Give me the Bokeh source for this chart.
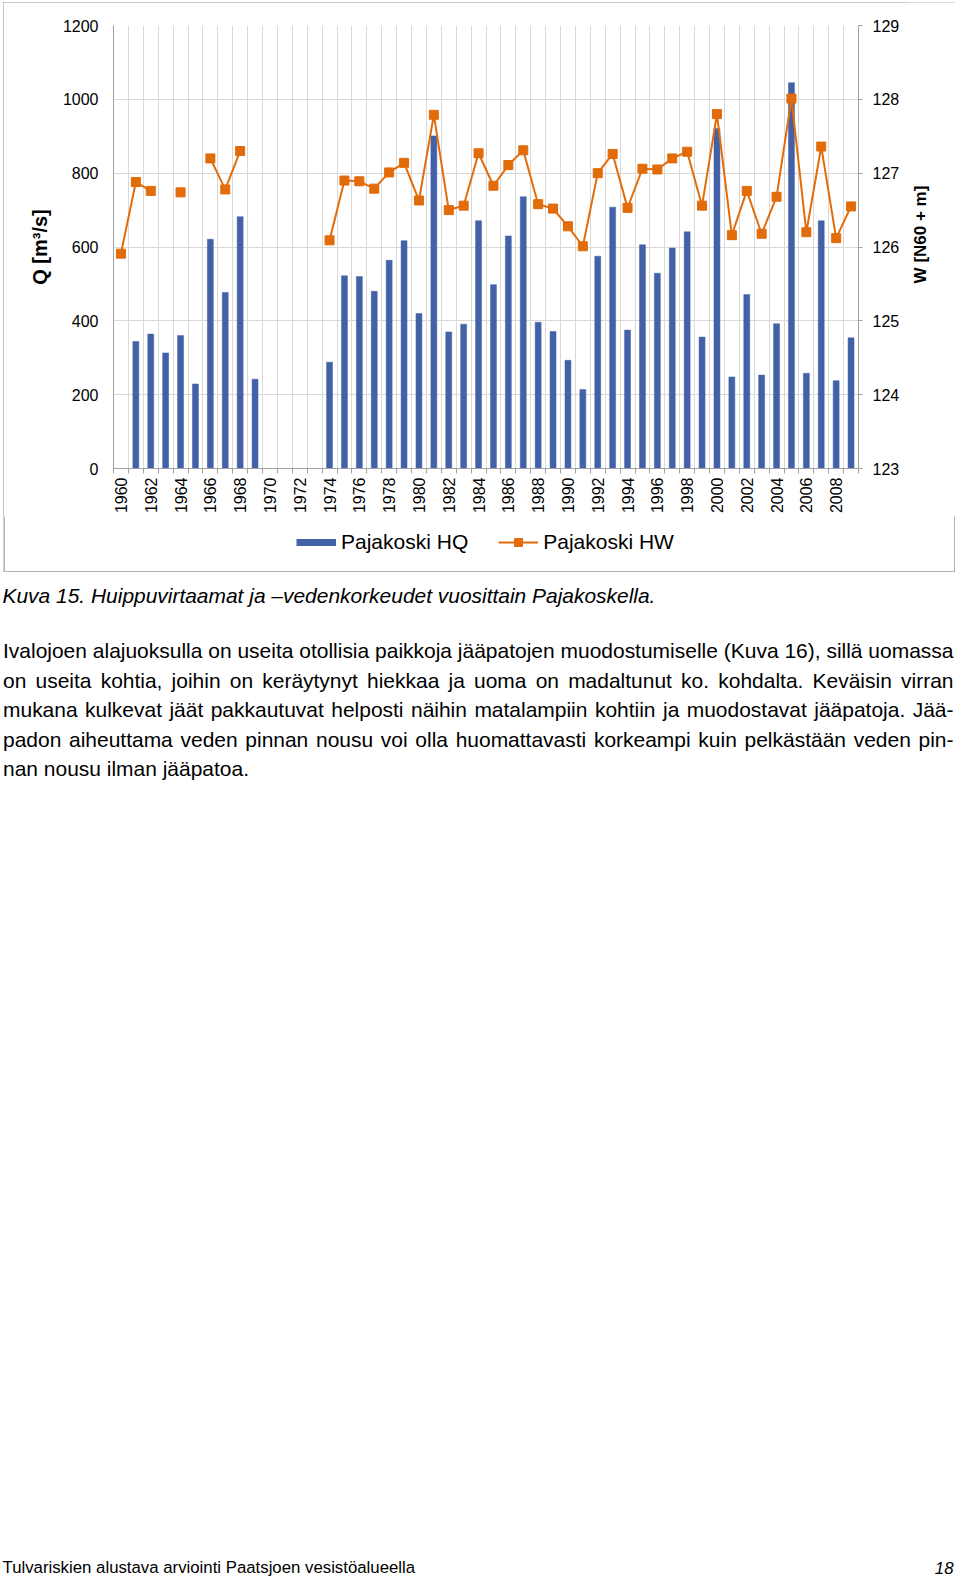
import glob
import math
import numpy as np
from bokeh.plotting import figure
from bokeh.layouts import column, row
from bokeh.models import (Range1d, LinearAxis, FixedTicker, Legend, LegendItem)
from bokeh.core.properties import value
from bokeh.embed import file_html
from bokeh.resources import INLINE

# ---------------- data ----------------
years = list(range(1960, 2010))
hq = [None, 344, 364, 313, 360, 229, 621, 477, 682, 242,
      None, None, None, None, 288, 522, 520, 480, 564, 617,
      420, 901, 370, 391, 671, 498, 630, 736, 396, 371,
      293, 214, 575, 708, 375, 606, 529, 597, 641, 356,
      921, 248, 471, 253, 392, 1045, 258, 671, 238, 354]
hw = [125.91, 126.88, 126.76, None, 126.74, None, 127.20, 126.78, 127.30, None,
      None, None, None, None, 126.09, 126.90, 126.89, 126.79, 127.01, 127.14,
      126.63, 127.79, 126.50, 126.56, 127.27, 126.83, 127.11, 127.31, 126.58, 126.52,
      126.28, 126.01, 127.00, 127.26, 126.53, 127.06, 127.05, 127.20, 127.29, 126.56,
      127.80, 126.16, 126.76, 126.18, 126.68, 128.01, 126.20, 127.36, 126.12, 126.55]
q_ticks = [0, 200, 400, 600, 800, 1000, 1200]
w_ticks = [123, 124, 125, 126, 127, 128, 129]
year_labels = list(range(1960, 2009, 2))

series_hq = "Pajakoski HQ"
series_hw = "Pajakoski HW"
y_label_left = "Q [m³/s]"
y_label_right = "W [N60 + m]"
caption = "Kuva 15. Huippuvirtaamat ja –vedenkorkeudet vuosittain Pajakoskella."
body_lines = [
    "Ivalojoen alajuoksulla on useita otollisia paikkoja jääpatojen muodostumiselle (Kuva 16), sillä uomassa",
    "on useita kohtia, joihin on keräytynyt hiekkaa ja uoma on madaltunut ko. kohdalta. Keväisin virran",
    "mukana kulkevat jäät pakkautuvat helposti näihin matalampiin kohtiin ja muodostavat jääpatoja. Jää-",
    "padon aiheuttama veden pinnan nousu voi olla huomattavasti korkeampi kuin pelkästään veden pin-",
    "nan nousu ilman jääpatoa.",
]
footer = "Tulvariskien alustava arviointi Paatsjoen vesistöalueella"
page_no = "18"

# ---------------- font measuring ----------------
def find_font(fname):
    for root in ["/usr/share/fonts", "/usr/local/share/fonts", "/usr/lib", "/opt", "/root/.fonts"]:
        r = glob.glob(root + "/**/" + fname, recursive=True)
        if r:
            return r[0]
    return None

try:
    from PIL import ImageFont
    HAVE_PIL = True
except Exception:
    HAVE_PIL = False

_fcache = {}
def measurer(fname):
    if not HAVE_PIL:
        return None
    if fname in _fcache:
        return _fcache[fname]
    path = find_font(fname)
    f = None
    if path:
        try:
            f = ImageFont.truetype(path, 100)
        except Exception:
            f = None
    _fcache[fname] = f
    return f

def text_w(f, text, size):
    return f.getlength(text) / 100.0 * size

def noalign(fig):
    try:
        fig.frame_align = False
    except Exception:
        pass

def blank(fig):
    fig.axis.visible = False
    fig.grid.visible = False
    fig.outline_line_color = None
    fig.background_fill_color = "white"
    fig.border_fill_color = "white"

# ---------------- layout constants ----------------
W, H = 960, 1577
BOX_L, BOX_R, BOX_T, BOX_B = 3, 955, 2, 572
FL, FR, FT, FB = 113, 858, 25, 470
CHART_B = 516          # page y where the chart figure ends, legend strip begins
SPLIT = 905            # page x where the chart figure ends, right-title strip begins
BLUE = "#4361A6"
ORANGE = "#E26B0A"
GRID = "#d9d9d9"
AXC = "#a0a0a0"
BOXC = "#b4b4b4"
FONT = "Liberation Sans"
TEXT_SHIFT = -8        # correction for the text figure's vertical placement

CW = BOX_R - BOX_L
CH = CHART_B - BOX_T
SH = BOX_B - CHART_B
PW = SPLIT - BOX_L
SW = BOX_R - SPLIT

# ---------------- chart figure ----------------
p = figure(width=PW, height=CH, x_range=Range1d(1959.5, 2009.5), y_range=Range1d(0, 1200),
           output_backend="svg", toolbar_location=None, title=None,
           min_border_left=FL - BOX_L, min_border_right=SPLIT - FR,
           min_border_top=FT - BOX_T, min_border_bottom=CHART_B - FB)
noalign(p)
p.outline_line_color = None
p.background_fill_color = "white"
p.border_fill_color = "white"

# left axis
ax_l = p.left[0]
ax_l.ticker = FixedTicker(ticks=q_ticks)
ax_l.major_tick_out = 0
ax_l.major_tick_in = 0
ax_l.minor_tick_out = 0
ax_l.minor_tick_in = 0
ax_l.major_label_standoff = 15
ax_l.major_label_text_font = FONT
ax_l.major_label_text_font_size = "16px"
ax_l.major_label_text_color = "black"
ax_l.axis_line_color = AXC
ax_l.axis_label = y_label_left
ax_l.axis_label_text_font = FONT
ax_l.axis_label_text_font_size = "20px"
ax_l.axis_label_text_font_style = "bold"
ax_l.axis_label_text_color = "black"
ax_l.axis_label_standoff = 9

# bottom axis
ax_b = p.below[0]
boundaries = [y - 0.5 for y in range(1960, 2011)]
ax_b.ticker = FixedTicker(ticks=year_labels, minor_ticks=boundaries)
ax_b.major_tick_line_color = None
ax_b.major_tick_out = 0
ax_b.major_tick_in = 0
ax_b.minor_tick_out = 5
ax_b.minor_tick_in = 0
ax_b.minor_tick_line_color = AXC
ax_b.axis_line_color = AXC
ax_b.major_label_orientation = math.pi / 2
ax_b.major_label_standoff = 4
ax_b.major_label_text_font = FONT
ax_b.major_label_text_font_size = "16px"
ax_b.major_label_text_color = "black"

# right axis (its title is drawn in the strip to the right)
p.extra_y_ranges = {"w": Range1d(123, 129)}
ax_r = LinearAxis(y_range_name="w", ticker=FixedTicker(ticks=w_ticks))
ax_r.major_tick_out = 4
ax_r.major_tick_in = 0
ax_r.minor_tick_out = 0
ax_r.minor_tick_in = 0
ax_r.major_tick_line_color = AXC
ax_r.axis_line_color = AXC
ax_r.major_label_standoff = 10
ax_r.major_label_text_font = FONT
ax_r.major_label_text_font_size = "16px"
ax_r.major_label_text_color = "black"
p.add_layout(ax_r, "right")

# grids
p.xgrid[0].ticker = FixedTicker(ticks=boundaries)
p.xgrid[0].grid_line_color = GRID
p.ygrid[0].ticker = FixedTicker(ticks=q_ticks)
p.ygrid[0].grid_line_color = GRID

# bars
bx = [y for y, v in zip(years, hq) if v is not None]
bt = [v for v in hq if v is not None]
p.vbar(x=bx, top=bt, width=0.4, fill_color=BLUE, line_color=BLUE, line_width=0.5)

# line + markers
hw_arr = [np.nan if v is None else v for v in hw]
p.line(years, hw_arr, y_range_name="w", line_color=ORANGE, line_width=2)
p.scatter(years, hw_arr, y_range_name="w", marker="square", size=9,
          fill_color=ORANGE, line_color=ORANGE)

# ---------------- right title strip ----------------
rs = figure(width=SW, height=CH, x_range=Range1d(0, SW), y_range=Range1d(CH, 0),
            output_backend="svg", toolbar_location=None, title=None, min_border=0)
noalign(rs)
blank(rs)
rs.text(x=[920 - SPLIT], y=[234 - BOX_T], text=[y_label_right], angle=math.pi / 2,
        text_font=value(FONT), text_font_size=value("17px"), text_font_style="bold",
        text_align="center", text_baseline="middle", text_color="black")

# ---------------- legend strip (inside the chart box) ----------------
lg = figure(width=CW, height=SH, x_range=Range1d(0, CW), y_range=Range1d(SH, 0),
            output_backend="svg", toolbar_location=None, title=None, min_border=0)
noalign(lg)
blank(lg)
# lower part of the chart box frame
lg.line([0.75, 0.75, CW - 0.75, CW - 0.75], [0, SH - 0.75, SH - 0.75, 0],
        line_color=BOXC, line_width=1.5)
d_hq = lg.line([np.nan], [np.nan], line_color=BLUE, line_width=7, line_cap="butt")
d_hwl = lg.line([np.nan], [np.nan], line_color=ORANGE, line_width=2)
d_hws = lg.scatter([np.nan], [np.nan], marker="square", size=9,
                   fill_color=ORANGE, line_color=ORANGE)
legend = Legend(items=[LegendItem(label=series_hq, renderers=[d_hq]),
                       LegendItem(label=series_hw, renderers=[d_hwl, d_hws])],
                orientation="horizontal", location=(293, (SH - 20) / 2),
                glyph_width=40, glyph_height=20, label_standoff=5, spacing=30,
                padding=0, margin=0, border_line_color=None,
                background_fill_alpha=0,
                label_text_font=FONT, label_text_font_size="21px",
                label_text_color="black")
lg.add_layout(legend)

box = column(row(p, rs, spacing=0), lg, spacing=0, margin=(BOX_T, W - BOX_R, 0, BOX_L),
             styles={"outline": "1.5px solid " + BOXC, "outline-offset": "-1.5px"})

# ---------------- text figure (pixel space below the chart box) ----------------
TY0 = BOX_B
TH = H - TY0
t = figure(width=W, height=TH, x_range=Range1d(0, W), y_range=Range1d(TH, 0),
           output_backend="svg", toolbar_location=None, title=None, min_border=0)
noalign(t)
blank(t)

def put(xs, ys, texts, size, style="normal", align="left", font=FONT):
    t.text(x=xs, y=[y - TY0 + TEXT_SHIFT for y in ys], text=texts, text_font=value(font),
           text_font_size=value("%.2fpx" % size), text_font_style=style,
           text_align=align, text_baseline="alphabetic", text_color="black")

# caption
fi = measurer("LiberationSans-Italic.ttf")
cap_size = 21.0
if fi is not None:
    cap_size = max(19.0, min(23.0, 653.0 / text_w(fi, caption, 1.0)))
put([2], [603], [caption], cap_size, style="italic")

# body text, justified
fr = measurer("LiberationSans-Regular.ttf")
L_EDGE, R_EDGE = 2.5, 953.0
baselines = [658, 687.5, 717, 746.5, 776]
body_size = 20.0
if fr is not None:
    nat = text_w(fr, body_lines[0], 1.0)
    body_size = max(18.5, min(21.0, (R_EDGE - L_EDGE) / nat))
bx_, by_, bw_ = [], [], []
for i, line in enumerate(body_lines):
    by = baselines[i]
    if fr is None or i == len(body_lines) - 1:
        bx_.append(L_EDGE); by_.append(by); bw_.append(line)
        continue
    words = line.split(" ")
    ws = [text_w(fr, w_, body_size) for w_ in words]
    gap = ((R_EDGE - L_EDGE) - sum(ws)) / (len(words) - 1)
    x = L_EDGE
    for w_, ww in zip(words, ws):
        bx_.append(x); by_.append(by); bw_.append(w_)
        x += ww + gap
put(bx_, by_, bw_, body_size)

# footer
narrow = measurer("LiberationSansNarrow-Regular.ttf")
if narrow is not None:
    ffont = "Liberation Sans Narrow"
    fm = narrow
else:
    ffont = FONT
    fm = fr
f_size = 19.5 if narrow is not None else 16.0
if fm is not None:
    f_size = max(14.0, min(21.0, 413.0 / text_w(fm, footer, 1.0)))
put([2], [1575], [footer], f_size, font=ffont)
put([953], [1575], [page_no], f_size, font=ffont, style="italic", align="right")

layout = column(box, t, spacing=0)
open("out.html", "w").write(file_html(layout, INLINE))
